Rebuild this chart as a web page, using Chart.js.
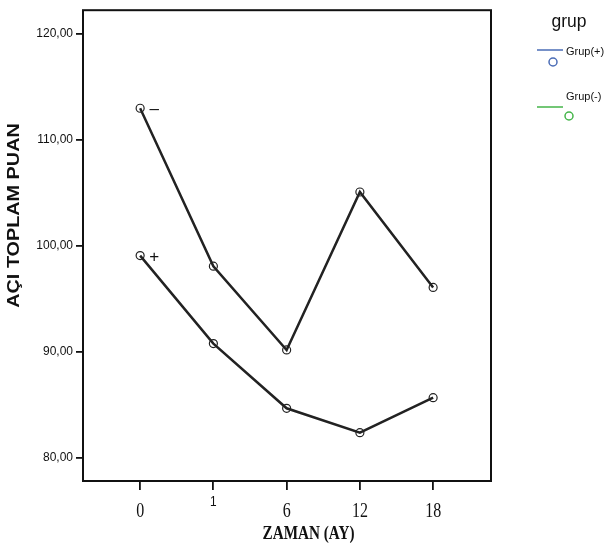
<!DOCTYPE html>
<html>
<head>
<meta charset="utf-8">
<script src="https://cdn.jsdelivr.net/npm/chart.js@4.4.1/dist/chart.umd.min.js"></script>
<style>
  html, body { margin: 0; padding: 0; background: #fff; }
  canvas { display: block; }
</style>
</head>
<body>
<canvas id="c" width="604" height="546"></canvas>
<script>
// values
var zamanLabels = ["0", "1", "6", "12", "18"];
var grupArti = [99.1, 90.8, 84.7, 82.4, 85.7];
var grupEksi = [113.0, 98.1, 90.2, 105.1, 96.1];
var yTicks = [80, 90, 100, 110, 120];
var seriesNames = ["Grup(+)", "Grup(-)"];
var seriesMarks = ["+", "\u2013"];
var legendColors = ["#4a6cb6", "#44b549"];

function toPoints(arr) {
  return arr.map(function(v, i) { return { x: i, y: v }; });
}

var spssPlugin = {
  id: 'spss',
  afterDraw: function(chart) {
    var ctx = chart.ctx, a = chart.chartArea, xs = chart.scales.x;
    ctx.save();
    ctx.strokeStyle = '#111';
    ctx.lineWidth = 2;
    ctx.strokeRect(a.left, a.top, a.right - a.left, a.bottom - a.top);

    // x tick labels (squashed serif like the original)
    ctx.fillStyle = '#111';
    ctx.textAlign = 'center';
    ctx.textBaseline = 'alphabetic';
    zamanLabels.forEach(function(lab, i) {
      var px = xs.getPixelForValue(i);
      ctx.save();
      if (lab === '1') {
        ctx.translate(px, 506);
        ctx.scale(0.85, 1);
        ctx.font = '14px "Liberation Sans", Arial, sans-serif';
      } else {
        ctx.translate(px, 517);
        ctx.scale(0.8, 1);
        ctx.font = '20px "Liberation Serif", "Times New Roman", serif';
      }
      ctx.fillText(lab, 0, 0);
      ctx.restore();
    });

    // x title
    ctx.save();
    ctx.translate(308.5, 539);
    ctx.scale(0.8, 1);
    ctx.font = 'bold 19px "Liberation Serif", "Times New Roman", serif';
    ctx.fillText('ZAMAN (AY)', 0, 0);
    ctx.restore();

    // y title
    ctx.save();
    ctx.translate(13.3, 215.5);
    ctx.rotate(-Math.PI / 2);
    ctx.scale(1.18, 1);
    ctx.font = 'bold 16.8px "Liberation Sans", Arial, sans-serif';
    ctx.fillText('AÇI TOPLAM PUAN', 0, 6);
    ctx.restore();

    // +/- marks beside first points
    ctx.font = '17px "Liberation Sans", Arial, sans-serif';
    ctx.textAlign = 'center';
    ctx.textBaseline = 'middle';
    chart.data.datasets.forEach(function(ds, i) {
      var p = chart.getDatasetMeta(i).data[0];
      ctx.fillText(seriesMarks[i], p.x + 14, p.y + 1.5);
    });

    // legend
    ctx.textAlign = 'center';
    ctx.textBaseline = 'alphabetic';
    ctx.font = '17.5px "Liberation Sans", Arial, sans-serif';
    ctx.fillStyle = '#111';
    ctx.fillText('grup', 569, 27);

    var rows = [
      { lineY: 50, textY: 55, cx: 553, cy: 62 },
      { lineY: 107, textY: 100, cx: 569, cy: 116 }
    ];
    ctx.textAlign = 'left';
    ctx.font = '11px "Liberation Sans", Arial, sans-serif';
    rows.forEach(function(r, i) {
      ctx.strokeStyle = legendColors[i];
      ctx.lineWidth = 1.5;
      ctx.beginPath();
      ctx.moveTo(537, r.lineY);
      ctx.lineTo(563, r.lineY);
      ctx.stroke();
      ctx.beginPath();
      ctx.arc(r.cx, r.cy, 4, 0, Math.PI * 2);
      ctx.stroke();
      ctx.fillStyle = '#111';
      ctx.fillText(seriesNames[i], 566, r.textY);
    });
    ctx.restore();
  }
};

new Chart(document.getElementById('c').getContext('2d'), {
  type: 'line',
  data: {
    datasets: [
      { label: seriesNames[0], data: toPoints(grupArti) },
      { label: seriesNames[1], data: toPoints(grupEksi) }
    ]
  },
  options: {
    responsive: false,
    animation: false,
    devicePixelRatio: 1,
    layout: { padding: { left: 0, top: 8, right: 113, bottom: 0 } },
    elements: {
      line: { borderColor: '#222', borderWidth: 2.5, tension: 0 },
      point: {
        radius: 4, borderWidth: 1.2, borderColor: '#222',
        backgroundColor: 'rgba(0,0,0,0)'
      }
    },
    scales: {
      x: {
        type: 'linear',
        min: -0.78,
        max: 4.79,
        afterBuildTicks: function(scale) {
          scale.ticks = zamanLabels.map(function(l, i) { return { value: i }; });
        },
        afterFit: function(scale) { scale.height = 65; },
        ticks: { display: false },
        grid: {
          drawOnChartArea: false, drawTicks: true, tickLength: 9,
          color: '#111', lineWidth: 1.8
        },
        border: { display: false }
      },
      y: {
        type: 'linear',
        min: 77.84,
        max: 122.25,
        afterBuildTicks: function(scale) {
          scale.ticks = yTicks.map(function(v) { return { value: v }; });
        },
        afterFit: function(scale) { scale.width = 83; },
        ticks: {
          padding: 3,
          color: '#111',
          font: { family: '"Liberation Sans", Arial, sans-serif', size: 12 },
          callback: function(v) { return v.toFixed(2).replace('.', ','); }
        },
        grid: {
          drawOnChartArea: false, drawTicks: true, tickLength: 7,
          color: '#111', lineWidth: 1.8
        },
        border: { display: false }
      }
    },
    plugins: {
      legend: { display: false },
      tooltip: { enabled: false }
    }
  },
  plugins: [spssPlugin]
});
</script>
</body>
</html>
